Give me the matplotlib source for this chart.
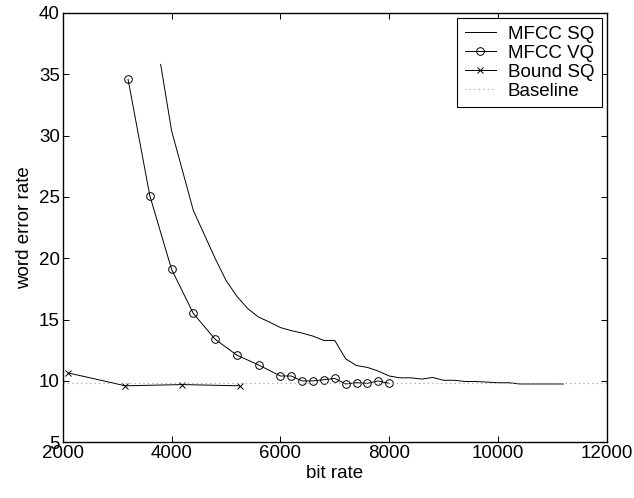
import numpy as np
import matplotlib
matplotlib.use("Agg")
import matplotlib.pyplot as plt

plt.rcParams['font.family'] = ['Liberation Sans', 'DejaVu Sans']

# MFCC SQ
sq_bits = [3800, 4000, 4400, 4800, 5000, 5200, 5400, 5600, 5800, 6000, 6200, 6400,
           6600, 6800, 7000, 7200, 7400, 7600, 7800, 8000, 8200, 8400, 8600, 8800,
           9000, 9200, 9400, 9600, 9800, 10000, 10200, 10400, 10600, 10800, 11000, 11200]
sq_wer = [35.8, 30.4, 23.9, 20.0, 18.2, 16.9, 15.9, 15.2, 14.8, 14.35, 14.1, 13.9,
          13.65, 13.3, 13.3, 11.8, 11.25, 11.1, 10.8, 10.4, 10.25, 10.25, 10.15, 10.28,
          10.05, 10.05, 9.95, 9.95, 9.9, 9.85, 9.85, 9.75, 9.75, 9.75, 9.75, 9.75]

# MFCC VQ
vq_bits = [3200, 3600, 4000, 4400, 4800, 5200, 5600, 6000, 6200, 6400, 6600, 6800,
           7000, 7200, 7400, 7600, 7800, 8000]
vq_wer = [34.6, 25.1, 19.1, 15.5, 13.4, 12.1, 11.3, 10.4, 10.4, 10.0, 10.0, 10.1,
          10.2, 9.75, 9.85, 9.8, 10.0, 9.8]

# Bound SQ
bound_bits = [2100, 3150, 4200, 5250]
bound_wer = [10.65, 9.6, 9.7, 9.6]

# Baseline
base_bits = [2000, 12000]
base_wer = [9.8, 9.8]

fs = 13.5

fig = plt.figure(figsize=(6.34, 4.98), dpi=100)
ax = fig.add_axes([0.099, 0.112, 0.858, 0.862])

ax.plot(sq_bits, sq_wer, 'k-', linewidth=0.7, label='MFCC SQ')
ax.plot(vq_bits, vq_wer, 'k-o', linewidth=0.7, markersize=5.5, markerfacecolor='none',
        markeredgewidth=0.7, label='MFCC VQ')
ax.plot(bound_bits, bound_wer, 'k-x', linewidth=0.7, markersize=4, markeredgewidth=0.7,
        label='Bound SQ')
ax.plot(base_bits, base_wer, color='#999999', linewidth=0.8, dashes=(1, 3), label='Baseline')

ax.set_xlim(2000, 12000)
ax.set_ylim(5, 40)
ax.set_xticks(np.arange(2000, 12001, 2000))
ax.set_yticks(np.arange(5, 41, 5))
ax.tick_params(direction='in', top=True, right=True, labelsize=fs, length=4, width=0.7, pad=2)
for s in ax.spines.values():
    s.set_linewidth(1.0)
ax.set_xlabel('bit rate', fontsize=fs, labelpad=2)
ax.set_ylabel('word error rate', fontsize=fs, labelpad=4)

leg = ax.legend(loc='upper right', fontsize=fs, fancybox=False, framealpha=1,
                edgecolor='k', borderaxespad=0.27, handlelength=1.7, handletextpad=0.6,
                labelspacing=0.1, borderpad=0.4)
leg.get_frame().set_linewidth(0.8)

fig.savefig('out.png', dpi=100)
